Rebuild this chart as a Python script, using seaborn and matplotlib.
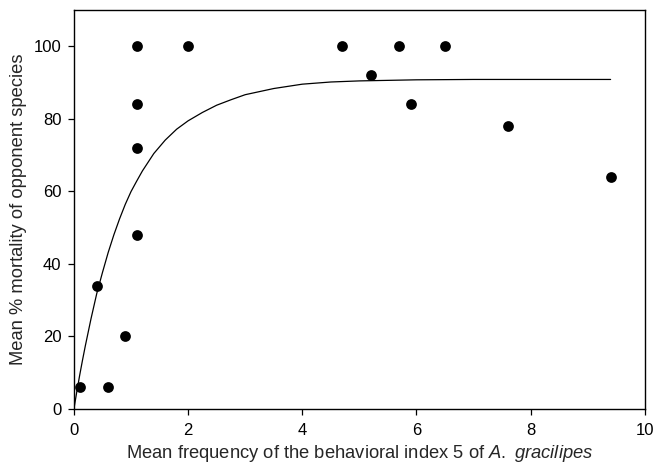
import matplotlib
matplotlib.use("Agg")
import matplotlib.pyplot as plt
import seaborn as sns
import pandas as pd

# Observed points
freq = [0.1, 0.4, 0.6, 0.9, 1.1, 1.1, 1.1, 1.1, 2.0, 4.7, 5.2, 5.7, 5.9, 6.5, 7.6, 9.4]
mortality = [6, 34, 6, 20, 48, 72, 84, 100, 100, 100, 92, 100, 84, 100, 78, 64]

# Fitted curve
curve_x = [0, 0.05, 0.1, 0.15, 0.2, 0.3, 0.4, 0.5, 0.6, 0.7, 0.8, 0.9, 1.0, 1.1, 1.2,
           1.4, 1.6, 1.8, 2.0, 2.25, 2.5, 2.75, 3.0, 3.5, 4.0, 4.5, 5.0, 6.0, 7.0, 8.0, 9.4]
curve_y = [0, 4.7, 9.2, 13.4, 17.4, 24.9, 31.8, 37.6, 43.1, 48.0, 52.4, 56.4, 59.9, 62.8, 65.6,
           70.4, 74.1, 77.1, 79.4, 81.7, 83.7, 85.2, 86.6, 88.3, 89.5, 90.1, 90.4, 90.7, 90.8, 90.8, 90.8]

x_ticks = [0, 2, 4, 6, 8, 10]
y_ticks = [0, 20, 40, 60, 80, 100]

sns.set_style("ticks")
plt.rcParams['font.family'] = ['Liberation Sans', 'DejaVu Sans']
plt.rcParams['mathtext.fontset'] = 'custom'
plt.rcParams['mathtext.rm'] = 'Liberation Sans'
plt.rcParams['mathtext.it'] = 'Liberation Sans:italic'

fig = plt.figure(figsize=(6.54, 4.65), dpi=100)
ax = fig.add_axes([0.113, 0.1204, 0.873, 0.8586])

pts = pd.DataFrame({"x": freq, "y": mortality})
cur = pd.DataFrame({"x": curve_x, "y": curve_y})

sns.lineplot(data=cur, x="x", y="y", ax=ax, color="black", linewidth=0.9, sort=True)
sns.scatterplot(data=pts, x="x", y="y", ax=ax, color="black", s=60, edgecolor="black",
                linewidth=0, zorder=3)

ax.set_xlim(0, 10)
ax.set_ylim(0, 110)
ax.set_xticks(x_ticks)
ax.set_yticks(y_ticks)
ax.tick_params(axis="both", direction="out", length=4, width=0.9, labelsize=12,
               colors="black")
ax.tick_params(axis="x", pad=6)
ax.tick_params(axis="y", pad=5)
for sp in ax.spines.values():
    sp.set_visible(True)
    sp.set_color("black")
    sp.set_linewidth(1.0)

ax.set_xlabel("Mean frequency of the behavioral index 5 of $\\it{A.}$ $\\it{gracilipes}$",
              fontsize=13.2, labelpad=4)
ax.set_ylabel("Mean % mortality of opponent species", fontsize=13.2, labelpad=5)

fig.savefig("out.png", dpi=100)
